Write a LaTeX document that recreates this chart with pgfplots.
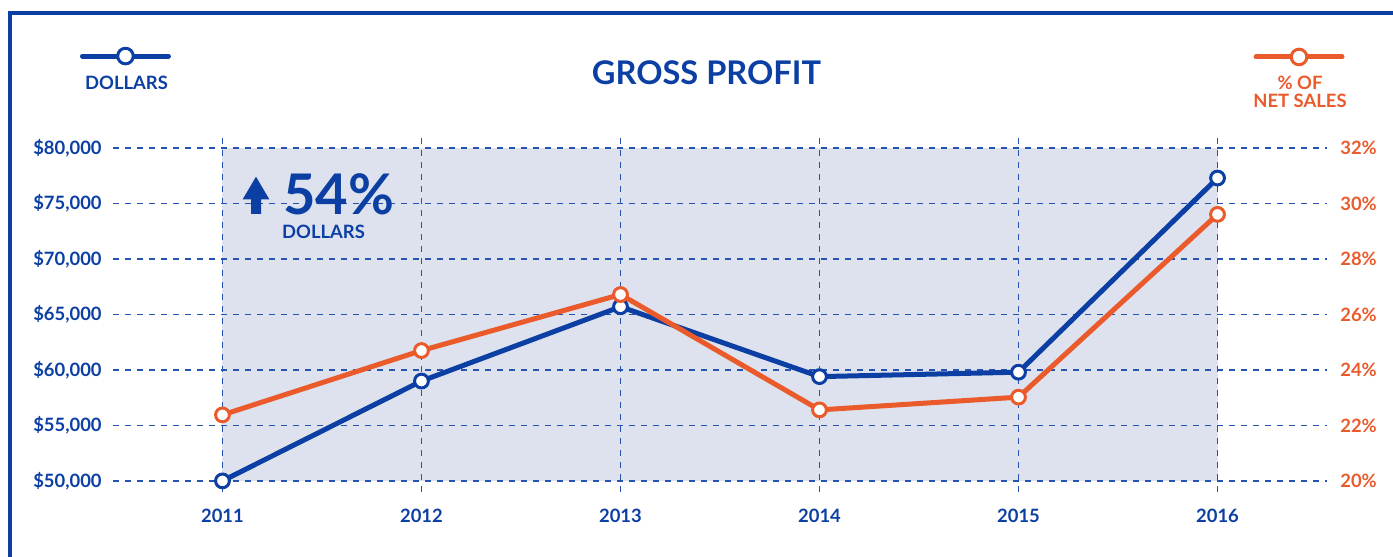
\documentclass[border=0pt]{standalone}
\usepackage{pgfplots}
\usepackage{pgfplotstable}
\pgfplotsset{compat=1.18}
\usepackage{fontspec}
\setmainfont{Lato}
\definecolor{gpblue}{HTML}{0B3FA3}
\definecolor{gporange}{HTML}{EA5A2B}
\definecolor{gpshade}{HTML}{DEE2EE}
\definecolor{gpgrid}{HTML}{2553B0}

\pgfplotstableread{
year dollars
2011 50000
2012 59000
2013 65700
2014 59400
2015 59800
2016 77300
}\dollarsdata
\pgfplotstableread{
year pct
2011 22.38
2012 24.70
2013 26.72
2014 22.56
2015 23.02
2016 29.61
}\pctdata

\newcommand{\lblfont}{\fontsize{9.2}{11}\selectfont\bfseries}

\pgfplotsset{
  gpbase/.style={
    scale only axis, width=607pt, height=177.5pt,
    at={(56.5pt,32.5pt)}, anchor=south west,
    xmin=2010.45, xmax=2016.55,
    major tick length=0pt,
    axis line style={draw=none},
    scaled y ticks=false, scaled x ticks=false,
    tick label style={font=\lblfont},
    legend image code/.code={%
      \draw[mark repeat=2,mark phase=2,#1,line cap=round,mark size=3.9pt]
        plot coordinates {(-21.5pt,0pt) (0pt,0pt) (21.5pt,0pt)};},
  },
}

\begin{document}
\begin{tikzpicture}
% background shading axis
\begin{axis}[gpbase, hide axis, ymin=49000, ymax=81000]
\addplot[fill=gpshade, draw=none] coordinates {(2011,50000) (2011,80000) (2016,80000) (2016,50000)} -- cycle;
\end{axis}
% dollars axis
\begin{axis}[gpbase,
  ymin=49000, ymax=81000,
  xtick={2011,2012,2013,2014,2015,2016},
  xticklabels={2011,2012,2013,2014,2015,2016},
  ytick={50000,55000,60000,65000,70000,75000,80000},
  yticklabels={\$50{,}000,\$55{,}000,\$60{,}000,\$65{,}000,\$70{,}000,\$75{,}000,\$80{,}000},
  tick label style={text=gpblue},
  yticklabel style={anchor=east, inner sep=0pt, xshift=-5.5pt},
  xticklabel style={anchor=north, inner sep=0pt, yshift=-8.5pt},
  grid=major,
  major grid style={gpgrid, line width=0.75pt, dash pattern=on 3pt off 3pt},
  legend style={at={(0.0111,1.228)}, anchor=center, draw=none, fill=none, inner sep=0pt, nodes={inner sep=0pt}},
  legend cell align=center,
]
\addplot[gpblue, line width=2.5pt, line join=round, mark=*, mark size=3.45pt,
  mark options={fill=white, draw=gpblue, line width=1.5pt}]
  table[x=year, y=dollars]{\dollarsdata};
\addlegendentry{}
\end{axis}
% percent axis
\begin{axis}[gpbase,
  ymin=19.6, ymax=32.4,
  hide x axis,
  axis y line*=right,
  ytick={20,22,24,26,28,30,32},
  yticklabels={20\%,22\%,24\%,26\%,28\%,30\%,32\%},
  yticklabel style={anchor=west, inner sep=0pt, xshift=6.5pt, text=gporange},
  legend style={at={(0.9778,1.2254)}, anchor=center, draw=none, fill=none, inner sep=0pt, nodes={inner sep=0pt}},
]
\addplot[gporange, line width=2.5pt, line join=round, mark=*, mark size=3.45pt,
  mark options={fill=white, draw=gporange, line width=1.5pt}]
  table[x=year, y=pct]{\pctdata};
\addlegendentry{}
\end{axis}
% decorations in pixel units (y measured from bottom)
\begin{scope}[x=0.5pt, y=0.5pt]
\useasboundingbox (0,0) rectangle (1393,557);
\draw[gpblue, line width=2pt, line join=miter] (10.3,-5) -- (10.3,544) -- (1400,544);
\node[anchor=base, inner sep=0pt, text=gpblue, font=\fontsize{16.3}{18}\selectfont\bfseries] at (706.5,472) {GROSS PROFIT};
\node[anchor=base, inner sep=0pt, text=gpblue, font=\lblfont] at (126.5,467) {DOLLARS};
\node[anchor=base, inner sep=0pt, text=gporange, font=\lblfont] at (1300,467.7) {\% OF};
\node[anchor=base, inner sep=0pt, text=gporange, font=\lblfont] at (1300,449.7) {NET SALES};
\fill[gpblue] (242.7,357.7) -- (256,380.3) -- (269.3,357.7) -- (261,357.7) -- (261,343) -- (251,343) -- (251,357.7) -- cycle;
\node[anchor=base west, inner sep=0pt, text=gpblue, font=\fontsize{28}{30}\selectfont\bfseries] at (282.7,342) {54\%};
\node[anchor=base, inner sep=0pt, text=gpblue, font=\lblfont] at (323.5,318) {DOLLARS};
\end{scope}
\end{tikzpicture}
\end{document}
